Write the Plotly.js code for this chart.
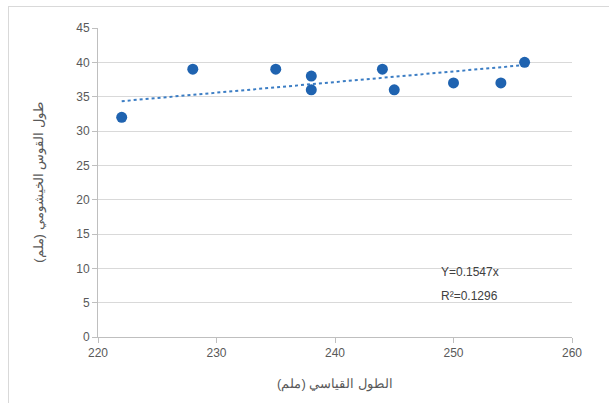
<!DOCTYPE html>
<html>
<head>
<meta charset="utf-8">
<script src="https://cdn.plot.ly/plotly-3.0.1.min.js"></script>
<style>
body{margin:0;padding:0;background:#fff;}
#wrap{position:relative;width:609px;height:403px;}
#chart{width:609px;height:403px;}
#frame{position:absolute;left:8px;top:6px;right:0;bottom:0;border-left:1px solid #d9d9d9;border-top:1px solid #d9d9d9;pointer-events:none;}
</style>
</head>
<body>
<div id="wrap"><div id="chart"></div><div id="frame"></div></div>
<script>
var standardLength = [222, 228, 235, 238, 238, 244, 245, 250, 254, 256];
var gillArchLength = [32, 39, 39, 38, 36, 39, 36, 37, 37, 40];
var slope = 0.1547;
var rSquared = 0.1296;
var xTitle = "الطول القياسي (ملم)";
var yTitle = "طول القوس الخيشومي (ملم)";

var xmin = Math.min.apply(null, standardLength);
var xmax = Math.max.apply(null, standardLength);
var trendX = [xmin, xmax];
var trendY = trendX.map(function(v){return slope * v;});

var font = {family: "Liberation Sans, Arial, sans-serif", size: 12, color: "#595959"};

var data = [
  {x: trendX, y: trendY, mode: "lines", type: "scatter",
   line: {color: "#3b7dc4", width: 2, dash: "dot"}, hoverinfo: "skip"},
  {x: standardLength, y: gillArchLength, mode: "markers", type: "scatter",
   marker: {color: "#1f63b0", size: 11}}
];

var layout = {
  width: 609, height: 403,
  margin: {l: 98, r: 37, t: 28, b: 66},
  paper_bgcolor: "#ffffff", plot_bgcolor: "#ffffff",
  showlegend: false,
  font: font,
  xaxis: {
    range: [220, 260], dtick: 10, tick0: 220,
    showgrid: false, zeroline: false,
    showline: true, linecolor: "#bfbfbf", linewidth: 1,
    ticks: "outside", ticklen: 5, tickcolor: "#bfbfbf",
    tickfont: font,
    title: {text: xTitle, font: {family: "Liberation Sans, Arial, sans-serif", size: 13, color: "#595959"}, standoff: 19}
  },
  yaxis: {
    range: [0, 45], dtick: 5, tick0: 0,
    showgrid: true, gridcolor: "#d9d9d9", gridwidth: 1,
    zeroline: false,
    showline: true, linecolor: "#bfbfbf", linewidth: 1,
    ticks: "outside", ticklen: 5, tickcolor: "#bfbfbf",
    tickfont: font,
    title: {text: yTitle, font: {family: "Liberation Sans, Arial, sans-serif", size: 13, color: "#595959"}, standoff: 29}
  },
  annotations: [
    {x: 248.8, y: 9.5, xref: "x", yref: "y", text: "Y=" + slope + "x", showarrow: false,
     xanchor: "left", yanchor: "middle", font: {family: "Liberation Sans, Arial, sans-serif", size: 12, color: "#404040"}},
    {x: 248.8, y: 6, xref: "x", yref: "y", text: "R²=" + rSquared, showarrow: false,
     xanchor: "left", yanchor: "middle", font: {family: "Liberation Sans, Arial, sans-serif", size: 12, color: "#404040"}}
  ]
};

Plotly.newPlot("chart", data, layout, {displayModeBar: false, staticPlot: true});
</script>
</body>
</html>
